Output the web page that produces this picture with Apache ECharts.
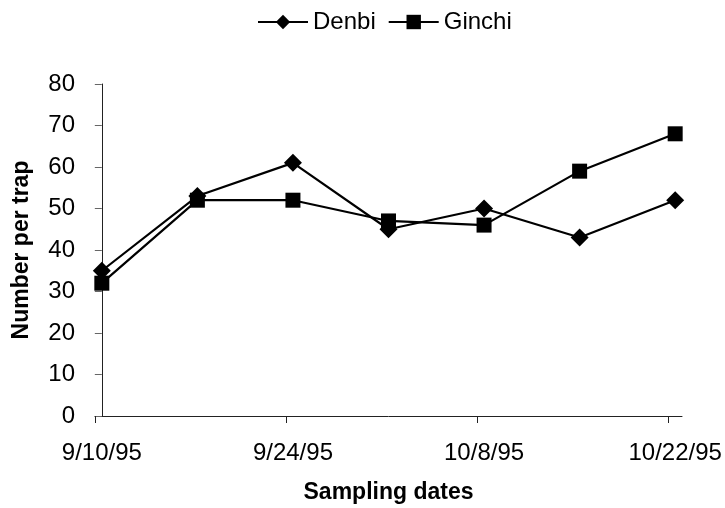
<!DOCTYPE html>
<html>
<head>
<meta charset="utf-8">
<script src="https://cdn.jsdelivr.net/npm/echarts@6/dist/echarts.min.js"></script>
<style>
  html, body { margin: 0; padding: 0; background: #fff; }
  #chart { width: 725px; height: 508px; }
</style>
</head>
<body>
<div id="chart"></div>
<script>
// Weekly trap catches, days counted from 9/10/95
const sampleDays = [0, 7, 14, 21, 28, 35, 42];
const denbi = [35, 53, 61, 45, 50, 43, 52];
const ginchi = [32, 52, 52, 47, 46, 59, 68];

// Date axis labels every two weeks
const dateTickDays = [0, 14, 28, 42];
const dateTickLabels = ['9/10/95', '9/24/95', '10/8/95', '10/22/95'];

const FONT = '"Liberation Sans", Arial, sans-serif';

const chart = echarts.init(document.getElementById('chart'));

chart.setOption({
  animation: false,
  textStyle: { fontFamily: FONT },
  legend: {
    top: 5,
    left: 252,
    itemWidth: 50,
    itemHeight: 18,
    itemGap: 12,
    textStyle: { fontSize: 24, color: '#000', fontFamily: FONT },
    data: ['Denbi', 'Ginchi']
  },
  grid: {
    left: 95, right: 43, top: 84, bottom: 92,
    containLabel: false,
    outerBoundsMode: 'none'
  },
  xAxis: {
    type: 'value',
    // each day occupies one unit; ticks sit on day boundaries, labels on the day itself
    min: -0.5,
    max: 42.5,
    name: 'Sampling dates',
    nameLocation: 'middle',
    nameGap: 65,
    nameMoveOverlap: false,
    nameTextStyle: { fontSize: 23, fontWeight: 'bold', color: '#000', fontFamily: FONT },
    axisLine: { show: true, lineStyle: { color: '#222', width: 1 } },
    axisTick: {
      show: true,
      inside: false,
      length: 7,
      lineStyle: { color: '#222' },
      customValues: dateTickDays.map(d => d - 0.5)
    },
    axisLabel: {
      customValues: dateTickDays,
      formatter: v => dateTickLabels[dateTickDays.indexOf(v)],
      fontSize: 24,
      color: '#000',
      margin: 25,
      fontFamily: FONT
    },
    splitLine: { show: false }
  },
  yAxis: {
    type: 'value',
    min: 0,
    max: 80,
    interval: 10,
    name: 'Number per trap',
    nameLocation: 'middle',
    nameGap: 62,
    nameMoveOverlap: false,
    nameRotate: 90,
    nameTextStyle: { fontSize: 23, fontWeight: 'bold', color: '#000', fontFamily: FONT },
    axisLine: { show: true, lineStyle: { color: '#222', width: 1 } },
    axisTick: { show: true, inside: false, length: 7, lineStyle: { color: '#666' } },
    axisLabel: { fontSize: 24, color: '#000', margin: 20, fontFamily: FONT },
    splitLine: { show: false }
  },
  series: [
    {
      name: 'Denbi',
      type: 'line',
      data: sampleDays.map((d, i) => [d, denbi[i]]),
      symbol: 'diamond',
      symbolSize: [18, 18],
      lineStyle: { color: '#000', width: 2.2 },
      itemStyle: { color: '#000' },
      z: 3
    },
    {
      name: 'Ginchi',
      type: 'line',
      data: sampleDays.map((d, i) => [d, ginchi[i]]),
      symbol: 'rect',
      symbolSize: 15,
      lineStyle: { color: '#000', width: 2.2 },
      itemStyle: { color: '#000' },
      z: 2
    }
  ]
});
</script>
</body>
</html>
